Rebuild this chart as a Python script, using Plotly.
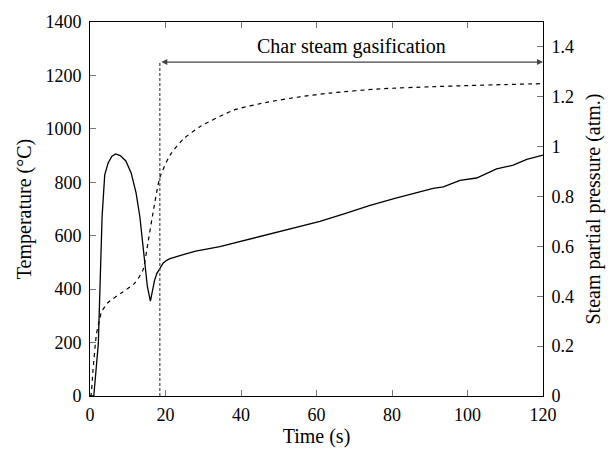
import plotly.graph_objects as go

# Temperature (left axis, solid)
temp_time = [0, 1.0, 2.2, 2.8, 3.2, 3.9, 4.8, 5.8, 6.8, 8.0, 9.5, 10.9, 12.2, 13.2, 14.0,
             14.5, 15.2, 16.0, 16.6, 17.1, 17.7, 18.5, 19.4, 20.3, 21.2, 24.7, 28, 34.4,
             41, 47.7, 54, 60.9, 67.5, 74.2, 81, 87.4, 90.9, 93.6, 98, 102.4, 107.7,
             112.1, 115.7, 120]
temp_vals = [0, 0, 195, 440, 670, 828, 872, 898, 906, 900, 880, 835, 760, 672, 570,
             493, 409, 355, 405, 433, 458, 478, 498, 508, 514, 529, 542, 559,
             583, 607, 630, 654, 683, 714, 741, 766, 777, 783, 807, 816, 850,
             864, 886, 902]

# Steam partial pressure (right axis, dashed)
pres_time = [0, 0.2, 0.8, 1.7, 2.6, 3.0, 4.8, 8.3, 11.8, 14.0, 15.4, 16.7, 18.5, 21.2,
             24.7, 29.1, 38, 46.8, 55.6, 63.6, 76.8, 90, 100, 110, 120]
pres_vals = [0, 0, 0.105, 0.247, 0.31, 0.336, 0.375, 0.413, 0.452, 0.504, 0.619, 0.735,
             0.876, 0.966, 1.03, 1.08, 1.146, 1.178, 1.200, 1.215, 1.232, 1.240, 1.245,
             1.249, 1.253]

x_ticks = [0, 20, 40, 60, 80, 100, 120]
y_ticks = [0, 200, 400, 600, 800, 1000, 1200, 1400]
y2_ticks = [0, 0.2, 0.4, 0.6, 0.8, 1.0, 1.2, 1.4]
y2_labels = ["0", "0.2", "0.4", "0.6", "0.8", "1", "1.2", "1.4"]

gasification_start = 18.5
gasification_end = 120
arrow_level = 1250
label_level = 1310
label_text = "Char steam gasification"

FONT = "Liberation Serif"
fs = 18
fs_title = 20

fig = go.Figure()
fig.add_trace(go.Scatter(x=temp_time, y=temp_vals, mode="lines",
                         line=dict(color="black", width=1.3), yaxis="y",
                         showlegend=False))
fig.add_trace(go.Scatter(x=pres_time, y=pres_vals, mode="lines",
                         line=dict(color="black", width=1.2, dash="4px,4px",
                                   shape="spline", smoothing=0.6),
                         yaxis="y2", showlegend=False))

fig.add_shape(type="line", xref="x", yref="y",
              x0=gasification_start, x1=gasification_start, y0=0, y1=arrow_level,
              line=dict(color="#444", width=1.2, dash="3px,2px"))

fig.add_annotation(x=gasification_end, y=arrow_level, ax=gasification_start, ay=arrow_level,
                   xref="x", yref="y", axref="x", ayref="y", text="", showarrow=True,
                   arrowside="end+start", arrowhead=2, arrowsize=1, arrowwidth=1.2,
                   arrowcolor="#444")
fig.add_annotation(x=(gasification_start + gasification_end) / 2, y=label_level,
                   xref="x", yref="y", text=label_text, showarrow=False,
                   font=dict(family=FONT, size=fs_title, color="black"))

axis_common = dict(showline=True, linecolor="black", linewidth=1, ticks="inside",
                   ticklen=6, tickcolor="#777", tickwidth=1, showgrid=False,
                   zeroline=False, tickfont=dict(family=FONT, size=fs, color="black"))

fig.update_layout(
    width=613, height=456,
    margin=dict(l=90, r=70, t=14, b=52),
    plot_bgcolor="white", paper_bgcolor="white",
    xaxis=dict(range=[0, 120], tickvals=x_ticks, mirror="ticks",
               title=dict(text="Time (s)", font=dict(family=FONT, size=fs_title, color="black"),
                          standoff=5),
               ticklabelstandoff=2, **axis_common),
    yaxis=dict(range=[0, 1400], tickvals=y_ticks,
               title=dict(text="Temperature (°C)",
                          font=dict(family=FONT, size=fs_title, color="black"),
                          standoff=8),
               ticklabelstandoff=4, **axis_common),
    yaxis2=dict(range=[0, 1.5], tickvals=y2_ticks, ticktext=y2_labels, overlaying="y",
                side="right",
                title=dict(text="Steam partial pressure (atm.)",
                           font=dict(family=FONT, size=fs_title, color="black"), standoff=12),
                ticklabelstandoff=4, **axis_common),
)

fig.write_html("out.html")
